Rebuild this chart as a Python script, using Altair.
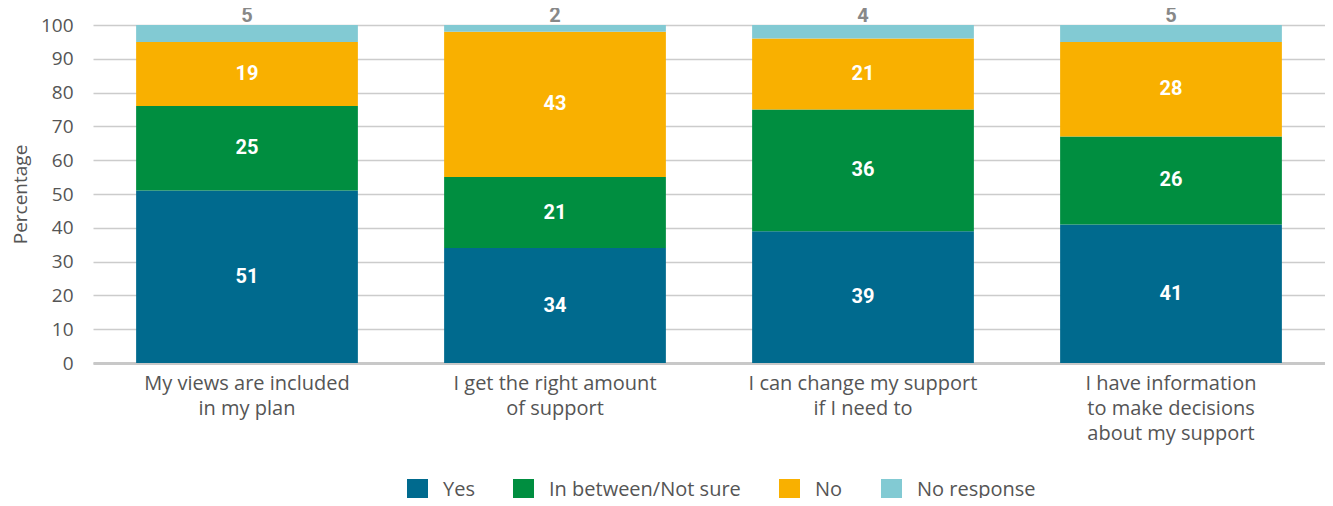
import altair as alt
import pandas as pd

questions = [
    "My views are included|in my plan",
    "I get the right amount|of support",
    "I can change my support|if I need to",
    "I have information|to make decisions|about my support",
]
responses = ["Yes", "In between/Not sure", "No", "No response"]
colors = ["#006A8E", "#008E40", "#F9B000", "#82CAD3"]

yes_vals = [51, 34, 39, 41]
between_vals = [25, 21, 36, 26]
no_vals = [19, 43, 21, 28]
noresp_vals = [5, 2, 4, 5]

series = [yes_vals, between_vals, no_vals, noresp_vals]
rows = []
for ri, (resp, vals) in enumerate(zip(responses, series)):
    for q, v in zip(questions, vals):
        rows.append({"question": q, "response": resp, "value": v, "order": ri})
df = pd.DataFrame(rows)

FONT = "Open Sans"
NUMFONT = "Roboto"

base = alt.Chart(df).transform_stack(
    stack="value", groupby=["question"], as_=["v0", "v1"],
    sort=[alt.SortField("order", order="ascending")]
).transform_calculate(mid="(datum.v0 + datum.v1) / 2")

xscale = alt.Scale(paddingInner=0.28, paddingOuter=0.14)
yscale = alt.Scale(domain=[0, 100], nice=False)

bars = base.mark_bar().encode(
    x=alt.X("question:N", sort=questions, title=None, scale=xscale),
    y=alt.Y("v0:Q", title="Percentage", scale=yscale),
    y2="v1:Q",
    color=alt.Color(
        "response:N", scale=alt.Scale(domain=responses, range=colors), title=None,
        legend=alt.Legend(
            orient="none", direction="horizontal", legendX=314, legendY=454,
            symbolType="square", symbolSize=441, symbolStrokeWidth=0,
            labelFontSize=20, labelColor="#555555", labelFont=FONT, labelLimit=400,
            labelOffset=15, columnPadding=38, symbolOpacity=1,
        ),
    ),
)

inner = base.transform_filter("datum.response != 'No response'").mark_text(
    color="white", fontWeight="bold", fontSize=20, font=NUMFONT, baseline="middle"
).encode(
    x=alt.X("question:N", sort=questions, scale=xscale, title=None),
    y=alt.Y("mid:Q", scale=yscale, title="Percentage"),
    text="value:Q",
)

top = base.transform_filter("datum.response == 'No response'").mark_text(
    color="#888888", fontWeight="bold", fontSize=20, font=NUMFONT, baseline="middle", dy=-9
).encode(
    x=alt.X("question:N", sort=questions, scale=xscale, title=None),
    y=alt.Y("v1:Q", scale=yscale, title="Percentage"),
    text="value:Q",
)

chart = alt.layer(bars, inner, top).properties(
    width=1232, height=338,
    autosize=alt.AutoSizeParams(type="none"),
    padding={"left": 85, "top": 17, "right": 0, "bottom": 135},
).configure_view(stroke=None).configure_axisX(
    labelExpr="split(datum.label, '|')", labelAngle=0, labelFontSize=20,
    labelColor="#555555", labelFont=FONT, labelLineHeight=25, labelPadding=10,
    ticks=False, domain=True, domainColor="#c8c8c8", domainWidth=3,
    labelBaseline="top", labelLimit=400, grid=False,
).configure_axisY(
    tickCount=10, labelFontSize=19, labelColor="#555555",
    labelFont=FONT, ticks=False, domain=False, labelPadding=20,
    gridColor="#cccccc", gridWidth=1.5, titleFont=FONT, titleFontSize=19,
    titleFontWeight="normal", titleColor="#555555", titlePadding=10,
)

chart.save("out.html", embed_options={"renderer": "svg", "actions": False})
